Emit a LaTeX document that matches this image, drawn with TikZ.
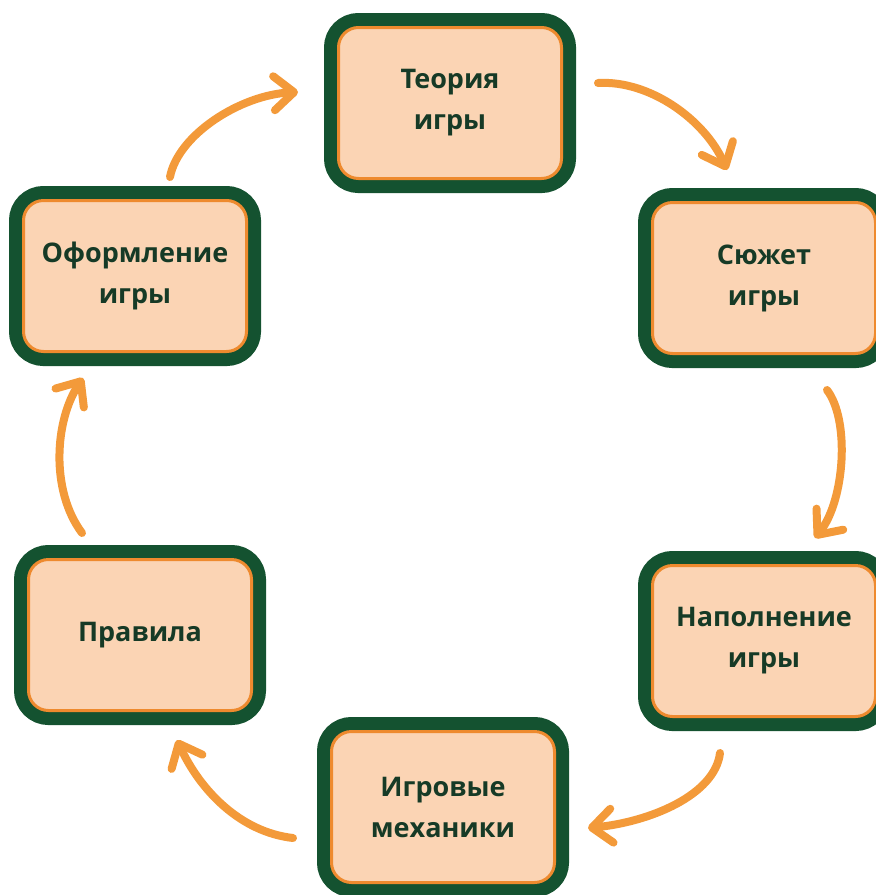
\documentclass[tikz,border=0pt]{standalone}
\usepackage{fontspec}
\setmainfont{Open Sans}
\usetikzlibrary{arrows.meta}
\definecolor{boxgreen}{HTML}{145230}
\definecolor{boxpeach}{HTML}{FBD4B4}
\definecolor{boxline}{HTML}{EE8A2E}
\definecolor{arr}{HTML}{F39A3A}
\definecolor{txt}{HTML}{163A26}
\begin{document}
\begin{tikzpicture}[x=1pt,y=-1pt,
  stage/.style={draw=boxline, line width=3pt, fill=boxpeach, rounded corners=20pt,
    minimum width=223pt, minimum height=151pt,
    preaction={draw=boxgreen, line width=29pt},
    align=center, font=\fontsize{27}{41}\selectfont\bfseries, text=txt, inner sep=0pt},
  flow/.style={draw=arr, line width=8pt, line cap=round,
    -{Straight Barb[length=20pt,width=34pt,round]}}]
\useasboundingbox (0,0) rectangle (876,895);

\node[stage] (teo) at (450,103) {Теория\\игры};
\node[stage] (sju) at (764,278) {Сюжет\\игры};
\node[stage] (nap) at (764,641) {Наполнение\\игры};
\node[stage] (mek) at (443,807) {Игровые\\механики};
\node[stage] (pra) at (140,635) {Правила};
\node[stage] (ofo) at (135,276) {Оформление\\игры};

\coordinate (a1s) at (170,177); \coordinate (a1e) at (298,92);
\coordinate (a2s) at (598,83);  \coordinate (a2e) at (727,170);
\coordinate (a3s) at (827,390); \coordinate (a3e) at (815,538);
\coordinate (a4s) at (720,753); \coordinate (a4e) at (588,828);
\coordinate (a5s) at (293,838); \coordinate (a5e) at (177,740);
\coordinate (a6s) at (82,533);  \coordinate (a6e) at (83,378);

\draw[flow] (a1s) .. controls (178,135) and (240,95) .. (a1e);
\draw[flow] (a2s) .. controls (650,80) and (705,120) .. (a2e);
\draw[flow] (a3s) .. controls (850,420) and (845,500) .. (a3e);
\draw[flow] (a4s) .. controls (715,795) and (650,822) .. (a4e);
\draw[flow] (a5s) .. controls (240,832) and (200,790) .. (a5e);
\draw[flow] (a6s) .. controls (50,490) and (55,420) .. (a6e);
\end{tikzpicture}
\end{document}
